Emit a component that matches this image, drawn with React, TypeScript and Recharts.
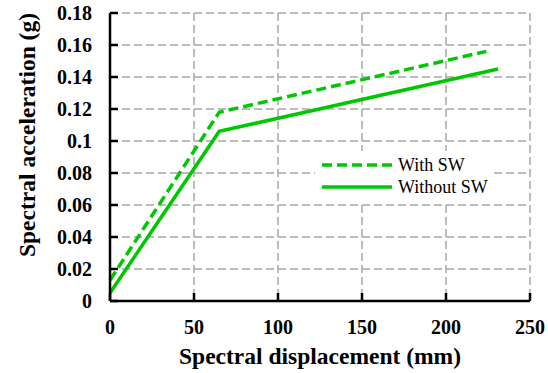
import React from 'react';
import { LineChart, Line, XAxis, YAxis, CartesianGrid, Legend, Label } from 'recharts';

// pushover-style capacity curves: displacement (mm) vs acceleration (g)
const withSwDisp = [0, 65, 224];
const withSwAcc = [0.013, 0.118, 0.156];
const withoutSwDisp = [0, 65, 231];
const withoutSwAcc = [0.005, 0.106, 0.145];

const xTicks = [0, 50, 100, 150, 200, 250];
const yTicks = [0, 0.02, 0.04, 0.06, 0.08, 0.1, 0.12, 0.14, 0.16, 0.18];

const GREEN = '#00C800';
const FONT = '"Liberation Serif", "Times New Roman", serif';
const titleStyle = { fontFamily: FONT, fontWeight: 700, fontSize: 23.5, fill: '#000' };

const withSw = withSwDisp.map((d, i) => ({ d, a: withSwAcc[i] }));
const withoutSw = withoutSwDisp.map((d, i) => ({ d, a: withoutSwAcc[i] }));

const LegendBox = () => (
  <div style={{ background: '#fff', padding: '3px 6px', fontFamily: FONT, fontSize: 18, color: '#000' }}>
    {[
      { name: 'With SW', dash: '10 5' },
      { name: 'Without SW', dash: undefined },
    ].map((it) => (
      <div key={it.name} style={{ display: 'flex', alignItems: 'center', height: 22 }}>
        <svg width={72} height={10} style={{ marginRight: 5 }}>
          <line x1={1} y1={5} x2={71} y2={5} stroke={GREEN} strokeWidth={3.5} strokeDasharray={it.dash} />
        </svg>
        <span style={{ lineHeight: '22px' }}>{it.name}</span>
      </div>
    ))}
  </div>
);

const YTitle = () => (
  <text x={35} y={135} transform="rotate(-90 35 135)" textAnchor="middle" style={titleStyle}>
    Spectral acceleration (g)
  </text>
);

export default function App() {
  const tickStyle = { fontFamily: FONT, fontWeight: 700, fontSize: 20, fill: '#000' };
  return (
    <div style={{ position: 'absolute', left: 0, top: 0, width: 548, height: 373, background: '#fff' }}>
      <LineChart width={548} height={373} margin={{ top: 13, right: 18, bottom: 0, left: 0 }}>
        <CartesianGrid stroke="#A6A6A6" strokeWidth={1.5} strokeDasharray="8 4" />
        <XAxis
          type="number"
          dataKey="d"
          domain={[0, 250]}
          ticks={xTicks}
          height={72}
          tick={tickStyle}
          tickSize={-8}
          tickMargin={27}
          axisLine={{ stroke: '#000', strokeWidth: 2.5 }}
          tickLine={{ stroke: '#000', strokeWidth: 2.5 }}
        >
          <Label value="Spectral displacement (mm)" position="insideBottom" offset={9} style={titleStyle} />
        </XAxis>
        <YAxis
          type="number"
          dataKey="a"
          domain={[0, 0.18]}
          ticks={yTicks}
          width={110}
          tick={tickStyle}
          tickSize={-8}
          tickMargin={26}
          axisLine={{ stroke: '#000', strokeWidth: 2.5 }}
          tickLine={{ stroke: '#000', strokeWidth: 2.5 }}
        >
          <Label content={<YTitle />} />
        </YAxis>
        <Legend
          layout="vertical"
          align="center"
          verticalAlign="middle"
          content={<LegendBox />}
          wrapperStyle={{ position: 'absolute', left: 315, top: 151, width: 'auto' }}
        />
        <Line
          data={withSw}
          dataKey="a"
          name="With SW"
          stroke={GREEN}
          strokeWidth={3.5}
          strokeDasharray="10 5"
          dot={false}
          isAnimationActive={false}
        />
        <Line
          data={withoutSw}
          dataKey="a"
          name="Without SW"
          stroke={GREEN}
          strokeWidth={3.5}
          dot={false}
          isAnimationActive={false}
        />
      </LineChart>
    </div>
  );
}
